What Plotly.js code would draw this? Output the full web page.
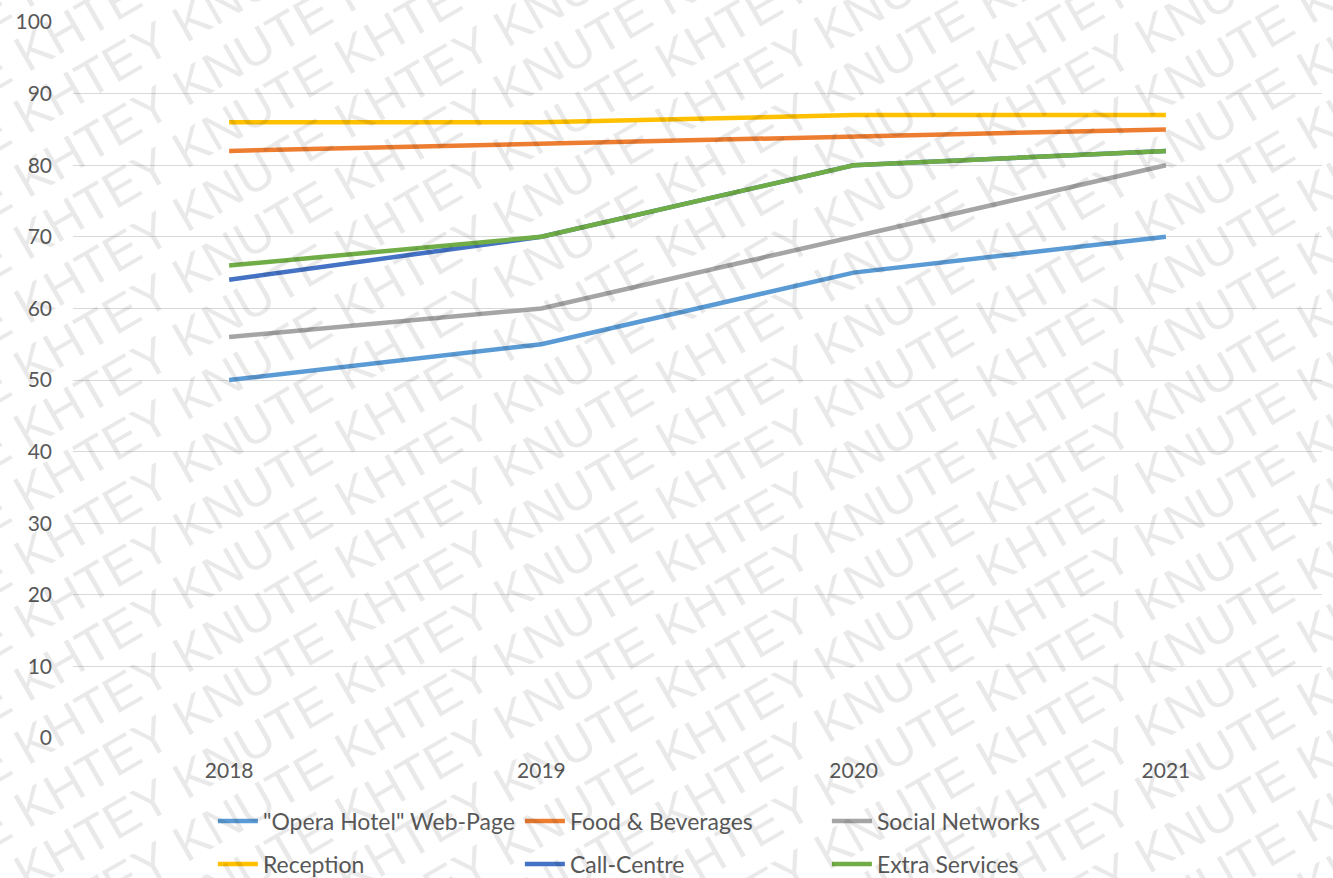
<!DOCTYPE html>
<html>
<head>
<meta charset="utf-8">
<script src="https://cdn.plot.ly/plotly-3.0.1.min.js"></script>
<style>
  html, body { margin: 0; padding: 0; background: #ffffff; }
  #chart { width: 1333px; height: 878px; }
</style>
</head>
<body>
<div id="chart"></div>
<script>
// ---- Data ----
var years = ["2018", "2019", "2020", "2021"];
var webPage = [50, 55, 65, 70];
var foodBeverages = [82, 83, 84, 85];
var socialNetworks = [56, 60, 70, 80];
var reception = [86, 86, 87, 87];
var callCentre = [64, 70, 80, 82];
var extraServices = [66, 70, 80, 82];
var seriesNames = ['"Opera Hotel" Web-Page', 'Food & Beverages', 'Social Networks', 'Reception', 'Call-Centre', 'Extra Services'];
var yTicks = [0, 10, 20, 30, 40, 50, 60, 70, 80, 90, 100];
var watermarkText = "KHTEY KNUTE";

// ---- Styles ----
var colors = ["#5B9BD5", "#ED7D31", "#A5A5A5", "#FFC000", "#4472C4", "#70AD47"];
var seriesValues = [webPage, foodBeverages, socialNetworks, reception, callCentre, extraServices];
var legendIds = ["legend", "legend", "legend", "legend2", "legend2", "legend2"];

var traces = seriesValues.map(function (vals, i) {
  return {
    type: "scatter",
    mode: "lines",
    name: seriesNames[i],
    x: years,
    y: vals,
    line: { color: colors[i], width: 4.5 },
    legend: legendIds[i],
    hoverinfo: "skip"
  };
});

var fontFamily = "Lato, 'Open Sans', sans-serif";
var textColor = "#595959";

// watermark annotations (decoration)
var annotations = [];
var rep = "";
for (var r = 0; r < 6; r++) rep += watermarkText + " ";
for (var k = -8; k <= 22; k++) {
  annotations.push({
    xref: "paper", yref: "paper",
    x: 0.47,
    y: 1 - (k * 63 - 20) / 716,
    text: rep,
    showarrow: false,
    textangle: -30,
    font: { family: "'Liberation Sans', Arial, sans-serif", size: 51, color: "rgba(0,0,0,0.085)" },
    xanchor: "center", yanchor: "middle"
  });
}

var legendFont = { family: fontFamily, size: 23, color: textColor };

var layout = {
  width: 1333,
  height: 878,
  margin: { l: 73, r: 11, t: 22, b: 140, autoexpand: false },
  paper_bgcolor: "#ffffff",
  plot_bgcolor: "#ffffff",
  font: { family: fontFamily, size: 21, color: textColor },
  showlegend: true,
  xaxis: {
    type: "category",
    range: [-0.5, 3.5],
    showgrid: false,
    showline: false,
    zeroline: false,
    ticks: "",
    ticklabelstandoff: 18,
    tickfont: { family: fontFamily, size: 21, color: textColor },
    fixedrange: true
  },
  yaxis: {
    range: [0, 100],
    tickvals: yTicks,
    showgrid: true,
    gridcolor: "#D9D9D9",
    gridwidth: 1,
    zeroline: false,
    showline: false,
    ticks: "",
    ticklabelstandoff: 20,
    tickfont: { family: fontFamily, size: 21, color: textColor },
    fixedrange: true
  },
  legend: {
    orientation: "h",
    x: 0.112, xanchor: "left",
    y: -0.116, yanchor: "middle",
    entrywidth: 252, entrywidthmode: "pixels",
    itemwidth: 40,
    font: legendFont,
    bgcolor: "rgba(0,0,0,0)",
    traceorder: "normal"
  },
  legend2: {
    orientation: "h",
    x: 0.112, xanchor: "left",
    y: -0.176, yanchor: "middle",
    entrywidth: 252, entrywidthmode: "pixels",
    itemwidth: 40,
    font: legendFont,
    bgcolor: "rgba(0,0,0,0)",
    traceorder: "normal"
  },
  annotations: annotations
};

Plotly.newPlot("chart", traces, layout, { displayModeBar: false, staticPlot: true });
</script>
</body>
</html>
